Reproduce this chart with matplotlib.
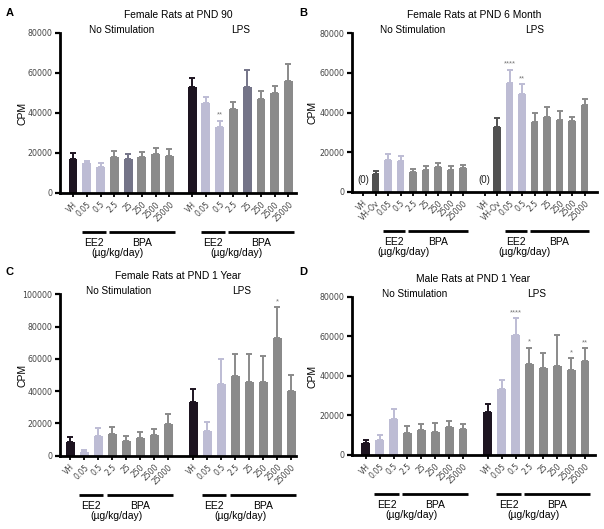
import matplotlib
matplotlib.use("Agg")
import matplotlib.pyplot as plt
import matplotlib.transforms as mtransforms
import numpy as np

plt.rcParams['font.family'] = ['Liberation Sans', 'DejaVu Sans']

# ---------------- data ----------------
doses = ["VH", "0.05", "0.5", "2.5", "25", "250", "2500", "25000"]
doses_b = ["VH", "VH-Ov", "0.05", "0.5", "2.5", "25", "250", "2500", "25000"]

a_nostim = [16850, 14850, 13200, 17850, 16850, 17850, 19350, 18500]
a_nostim_err = [3300, 1150, 1800, 3300, 2650, 2650, 3000, 3350]
a_lps = [52850, 44850, 33150, 42150, 52850, 46850, 49850, 56000]
a_lps_err = [4800, 3300, 3000, 3500, 8650, 4300, 3650, 8500]

b_nostim = [0, 8850, 15850, 15350, 10000, 10850, 12500, 10850, 12000]
b_nostim_err = [0, 1500, 3000, 2650, 1500, 2000, 2000, 2150, 1700]
b_lps = [0, 32500, 54700, 49500, 35300, 37800, 36300, 35800, 43700]
b_lps_err = [0, 4500, 7000, 4700, 4200, 5200, 4500, 2000, 3300]

c_nostim = [8250, 2060, 12400, 13200, 9300, 11100, 12800, 19400]
c_nostim_err = [3100, 1450, 4900, 4300, 3100, 3300, 3700, 6200]
c_lps = [33000, 15300, 44200, 49300, 45400, 45800, 72700, 40000]
c_lps_err = [8300, 5700, 15700, 13500, 17400, 15900, 19500, 10000]

d_nostim = [5830, 7500, 18300, 11300, 12800, 11700, 14200, 13300]
d_nostim_err = [1670, 2500, 4700, 3200, 2700, 4500, 2800, 2200]
d_lps = [21900, 33300, 60600, 46000, 44100, 45100, 42900, 47500]
d_lps_err = [3700, 4600, 8700, 8200, 7600, 15500, 6200, 6400]

# significance marks: (group, index, text)
a_stars = [("lps", 2, "**")]
b_stars = [("lps", 2, "****"), ("lps", 3, "**")]
c_stars = [("lps", 6, "*")]
d_stars = [("lps", 2, "****"), ("lps", 3, "*"), ("lps", 6, "*"), ("lps", 7, "**")]

# ---------------- style ----------------
C_VH = "#1d1420"
C_EE2 = "#bdbcd4"
C_BPA = "#8a8a8a"
C_BPA_DARK = "#747488"
C_OV = "#515151"

colors_std = [C_VH, C_EE2, C_EE2, C_BPA, C_BPA, C_BPA, C_BPA, C_BPA]
colors_a = [C_VH, C_EE2, C_EE2, C_BPA, C_BPA_DARK, C_BPA, C_BPA, C_BPA]
colors_b = [C_VH, C_OV, C_EE2, C_EE2, C_BPA, C_BPA, C_BPA, C_BPA, C_BPA]

W, H = 604, 529
fig = plt.figure(figsize=(W / 100, H / 100), dpi=100)


def axes_px(x0, x1, ytop, ybot):
    return fig.add_axes([x0 / W, 1 - ybot / H, (x1 - x0) / W, (ybot - ytop) / H])


def draw(ax, box, labels, ns, ns_err, lps, lps_err, colors, offset, xlim, ymax,
         ystep, title, letter, stars, width, ee2_idx, bpa_idx, unit_rel):
    x0, x1, ytop, ybot = box
    hpx = ybot - ytop
    n = len(labels)
    pos_ns = np.arange(n, dtype=float)
    pos_lps = np.arange(n, dtype=float) + offset
    groups = {"ns": (pos_ns, ns, ns_err), "lps": (pos_lps, lps, lps_err)}
    for key, (pos, vals, errs) in groups.items():
        for p, v, e, c in zip(pos, vals, errs, colors):
            if v <= 0:
                ax.text(p, ymax * 0.075, "(0)", ha='center', va='center',
                        fontsize=7, color='#222222')
                continue
            ax.bar(p, v, width, color=c, zorder=2)
            ax.errorbar(p, v, yerr=[[0], [e]], color=c, capsize=2.0,
                        elinewidth=1.4, capthick=1.4, zorder=1, fmt='none')
    for grp, idx, s in stars:
        pos, vals, errs = groups["lps" if grp == "lps" else "ns"]
        ax.text(pos[idx], vals[idx] + errs[idx] + ymax * 0.012, s, ha='center',
                va='bottom', fontsize=5.5, color='#777777')

    ax.set_xlim(*xlim)
    ax.set_ylim(0, ymax)
    ax.set_yticks(np.arange(0, ymax + 1, ystep))
    ax.set_yticklabels([f"{int(v)}" for v in np.arange(0, ymax + 1, ystep)],
                       fontsize=5.7, family='DejaVu Sans', color='#444444')
    ax.set_xticks(np.concatenate([pos_ns, pos_lps]))
    ax.set_xticklabels(labels + labels, rotation=45, ha='right',
                       rotation_mode='anchor', fontsize=5.5,
                       family='DejaVu Sans', color='#444444')
    for s in ('top', 'right'):
        ax.spines[s].set_visible(False)
    for s in ('left', 'bottom'):
        ax.spines[s].set_linewidth(2.0)
    ax.tick_params(axis='y', width=1.6, length=3.5, pad=2)
    ax.tick_params(axis='x', width=1.3, length=3, pad=2)

    trans = mtransforms.blended_transform_factory(ax.transData, ax.transAxes)
    for base in (0.0, offset):
        e0, e1 = base + ee2_idx[0] - 0.38, base + ee2_idx[-1] + 0.38
        b0, b1 = base + bpa_idx[0] - 0.38, base + bpa_idx[-1] + 0.38
        ax.plot([e0, e1], [-39 / hpx] * 2, color='black', lw=2,
                transform=trans, clip_on=False, solid_capstyle='butt')
        ax.plot([b0, b1], [-39 / hpx] * 2, color='black', lw=2,
                transform=trans, clip_on=False, solid_capstyle='butt')
        ax.text((e0 + e1) / 2, -50 / hpx, "EE2", transform=trans, ha='center',
                va='center', fontsize=7.5)
        ax.text((b0 + b1) / 2, -50 / hpx, "BPA", transform=trans, ha='center',
                va='center', fontsize=7.5)
        ax.text(base + unit_rel, -60.5 / hpx, "(µg/kg/day)", transform=trans,
                ha='center', va='center', fontsize=7.5)

    ax.text(0.5, 1 + 18 / hpx, title, transform=ax.transAxes, ha='center',
            va='center', fontsize=7.4)
    ax.text(pos_ns.mean(), 1 + 3 / hpx, "No Stimulation", transform=trans,
            ha='center', va='center', fontsize=7.2)
    ax.text(pos_lps.mean(), 1 + 3 / hpx, "LPS", transform=trans,
            ha='center', va='center', fontsize=7.2)


# Panel A
boxA = (60, 296, 33, 193)
axA = axes_px(*boxA)
draw(axA, boxA, doses, a_nostim, a_nostim_err, a_lps, a_lps_err, colors_a,
     8.65, (-0.95, 16.2), 80000, 20000, "Female Rats at PND 90", "A", a_stars,
     0.64, [1, 2], [3, 7], 3.2)

# Panel B
boxB = (352, 597, 33.3, 191.7)
axB = axes_px(*boxB)
draw(axB, boxB, doses_b, b_nostim, b_nostim_err, b_lps, b_lps_err, colors_b,
     9.72, (-0.88, 18.72), 80000, 20000, "Female Rats at PND 6 Month", "B",
     b_stars, 0.6, [2, 3], [4, 8], 3.2)

# Panel C
boxC = (60, 296, 294.3, 455.7)
axC = axes_px(*boxC)
draw(axC, boxC, doses, c_nostim, c_nostim_err, c_lps, c_lps_err, colors_std,
     8.79, (-0.72, 16.14), 100000, 20000, "Female Rats at PND 1 Year", "C",
     c_stars, 0.64, [1, 2], [3, 7], 3.35)

# Panel D
boxD = (352, 595, 296.7, 455)
axD = axes_px(*boxD)
draw(axD, boxD, doses, d_nostim, d_nostim_err, d_lps, d_lps_err, colors_std,
     8.78, (-0.99, 16.5), 80000, 20000, "Male Rats at PND 1 Year", "D",
     d_stars, 0.64, [1, 2], [3, 7], 3.3)

# panel letters and y labels
for letter, (lx, ly), (cx, cy) in [("A", (10, 13), (23, 113)),
                                   ("B", (303, 13), (312, 112)),
                                   ("C", (10, 272), (23, 375)),
                                   ("D", (303, 272), (312, 376))]:
    fig.text(lx / W, 1 - ly / H, letter, fontsize=8, fontweight='bold',
             ha='center', va='center')
    fig.text(cx / W, 1 - cy / H, "CPM", fontsize=7.5, rotation=90,
             ha='center', va='center')

fig.savefig("out.png", dpi=100)
